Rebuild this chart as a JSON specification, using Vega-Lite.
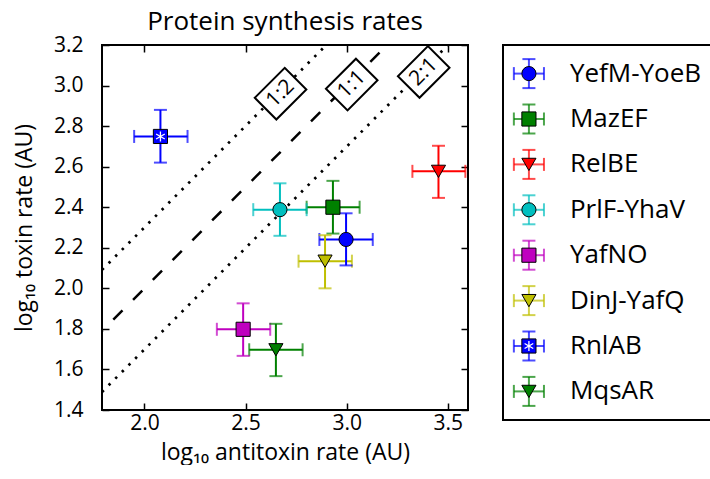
{
  "$schema": "https://vega.github.io/schema/vega-lite/v6.json",
  "padding": {"left": 12, "top": 8, "right": 0, "bottom": 0},
  "background": "white",
  "datasets": {
    "series": [
      {"name": "YefM-YoeB", "x": 2.997, "y": 2.241, "xlo": 2.865, "xhi": 3.129, "ylo": 2.113, "yhi": 2.37},
      {"name": "MazEF", "x": 2.932, "y": 2.40, "xlo": 2.802, "xhi": 3.064, "ylo": 2.27, "yhi": 2.53},
      {"name": "RelBE", "x": 3.454, "y": 2.577, "xlo": 3.325, "xhi": 3.587, "ylo": 2.446, "yhi": 2.703},
      {"name": "PrlF-YhaV", "x": 2.67, "y": 2.388, "xlo": 2.538, "xhi": 2.802, "ylo": 2.259, "yhi": 2.518},
      {"name": "YafNO", "x": 2.488, "y": 1.798, "xlo": 2.358, "xhi": 2.622, "ylo": 1.667, "yhi": 1.926},
      {"name": "DinJ-YafQ", "x": 2.893, "y": 2.134, "xlo": 2.762, "xhi": 3.026, "ylo": 2.0, "yhi": 2.262},
      {"name": "RnlAB", "x": 2.079, "y": 2.749, "xlo": 1.949, "xhi": 2.213, "ylo": 2.62, "yhi": 2.88},
      {"name": "MqsAR", "x": 2.65, "y": 1.697, "xlo": 2.518, "xhi": 2.782, "ylo": 1.567, "yhi": 1.825}
    ],
    "lines": [
      {"ratio": "1:2", "x": 1.79, "y": 2.091},
      {"ratio": "1:2", "x": 2.899, "y": 3.2},
      {"ratio": "1:1", "x": 1.79, "y": 1.79},
      {"ratio": "1:1", "x": 3.2, "y": 3.2},
      {"ratio": "2:1", "x": 1.79, "y": 1.489},
      {"ratio": "2:1", "x": 3.501, "y": 3.2}
    ],
    "labels": [
      {"label": "1:2", "x": 2.673, "y": 2.96},
      {"label": "1:1", "x": 3.025, "y": 3.005},
      {"label": "2:1", "x": 3.381, "y": 3.067}
    ]
  },
  "config": {
    "font": "Open Sans",
    "view": {"stroke": "black", "strokeWidth": 2},
    "axis": {
      "labelFont": "Open Sans", "labelFontSize": 21, "labelColor": "black",
      "titleFont": "Open Sans", "titleFontSize": 23, "titleFontWeight": "normal", "titleColor": "black",
      "tickColor": "black", "tickWidth": 1.5, "tickSize": -7, "domain": false, "grid": false, "labelPadding": 12
    }
  },
  "spacing": 32,
  "hconcat": [
    {
      "width": 366,
      "height": 365,
      "title": {"text": "Protein synthesis rates", "fontSize": 26, "font": "Open Sans", "fontWeight": "normal", "color": "black", "anchor": "middle", "offset": -1},
      "resolve": {"axis": {"x": "independent", "y": "independent"}},
      "layer": [
        {
          "data": {"name": "lines"},
          "transform": [{"filter": "datum.ratio !== '1:1'"}],
          "mark": {"type": "line", "color": "black", "strokeWidth": 2.7, "strokeDash": [2.5, 6.9], "clip": true},
          "encoding": {
            "x": {"field": "x", "type": "quantitative", "scale": {"domain": [1.79, 3.6], "nice": false, "zero": false},
                  "axis": {"orient": "bottom", "values": [2.0, 2.5, 3.0, 3.5], "format": ".1f", "title": "log₁₀ antitoxin rate (AU)", "labelPadding": 9, "titlePadding": 8}},
            "y": {"field": "y", "type": "quantitative", "scale": {"domain": [1.4, 3.2], "nice": false, "zero": false},
                  "axis": {"orient": "left", "values": [1.4, 1.6, 1.8, 2.0, 2.2, 2.4, 2.6, 2.8, 3.0, 3.2], "format": ".1f", "title": "log₁₀ toxin rate (AU)", "labelPadding": 26, "titlePadding": 17}},
            "detail": {"field": "ratio"}
          }
        },
        {
          "data": {"name": "lines"},
          "transform": [{"filter": "datum.ratio === '1:1'"}],
          "mark": {"type": "line", "color": "black", "strokeWidth": 2.5, "strokeDash": [13, 15], "strokeDashOffset": 12, "clip": true},
          "encoding": {
            "x": {"field": "x", "type": "quantitative", "axis": null},
            "y": {"field": "y", "type": "quantitative", "axis": null}
          }
        },
        {
          "data": {"name": "labels"},
          "mark": {"type": "point", "shape": "M-1,-0.72L1,-0.72L1,0.72L-1,0.72Z", "size": 1800, "angle": -45, "filled": true, "fill": "white", "stroke": "black", "strokeWidth": 2, "opacity": 1},
          "encoding": {
            "x": {"field": "x", "type": "quantitative", "axis": {"orient": "top", "values": [2.0, 2.5, 3.0, 3.5], "labels": false, "title": null}},
            "y": {"field": "y", "type": "quantitative", "axis": {"orient": "right", "values": [1.4, 1.6, 1.8, 2.0, 2.2, 2.4, 2.6, 2.8, 3.0, 3.2], "labels": false, "title": null}}
          }
        },
        {
          "data": {"name": "labels"},
          "mark": {"type": "text", "angle": -45, "fontSize": 21, "align": "center", "baseline": "middle", "color": "black", "font": "Open Sans"},
          "encoding": {
            "x": {"field": "x", "type": "quantitative", "axis": null},
            "y": {"field": "y", "type": "quantitative", "axis": null},
            "text": {"field": "label"}
          }
        },
        {
          "data": {"name": "series"},
          "mark": {"type": "rule", "strokeWidth": 2},
          "encoding": {
            "x": {"field": "xlo", "type": "quantitative", "axis": null},
            "x2": {"field": "xhi"},
            "y": {"field": "y", "type": "quantitative", "axis": null},
            "color": {"field": "name", "type": "nominal", "legend": null,
                      "scale": {"domain": ["YefM-YoeB", "MazEF", "RelBE", "PrlF-YhaV", "YafNO", "DinJ-YafQ", "RnlAB", "MqsAR"],
                                "range": ["#0000ff", "#008000", "#ff0000", "#00bfbf", "#bf00bf", "#bfbf00", "#0000ff", "#008000"]}}
          }
        },
        {
          "data": {"name": "series"},
          "mark": {"type": "rule", "strokeWidth": 2},
          "encoding": {
            "x": {"field": "x", "type": "quantitative", "axis": null},
            "y": {"field": "ylo", "type": "quantitative", "axis": null},
            "y2": {"field": "yhi"},
            "color": {"field": "name", "type": "nominal", "legend": null}
          }
        },
        {
          "data": {"name": "series"},
          "mark": {"type": "tick", "orient": "vertical", "size": 13, "thickness": 2},
          "encoding": {
            "x": {"field": "xlo", "type": "quantitative", "axis": null},
            "y": {"field": "y", "type": "quantitative", "axis": null},
            "color": {"field": "name", "type": "nominal", "legend": null}
          }
        },
        {
          "data": {"name": "series"},
          "mark": {"type": "tick", "orient": "vertical", "size": 13, "thickness": 2},
          "encoding": {
            "x": {"field": "xhi", "type": "quantitative", "axis": null},
            "y": {"field": "y", "type": "quantitative", "axis": null},
            "color": {"field": "name", "type": "nominal", "legend": null}
          }
        },
        {
          "data": {"name": "series"},
          "mark": {"type": "tick", "orient": "horizontal", "size": 13, "thickness": 2},
          "encoding": {
            "x": {"field": "x", "type": "quantitative", "axis": null},
            "y": {"field": "ylo", "type": "quantitative", "axis": null},
            "color": {"field": "name", "type": "nominal", "legend": null}
          }
        },
        {
          "data": {"name": "series"},
          "mark": {"type": "tick", "orient": "horizontal", "size": 13, "thickness": 2},
          "encoding": {
            "x": {"field": "x", "type": "quantitative", "axis": null},
            "y": {"field": "yhi", "type": "quantitative", "axis": null},
            "color": {"field": "name", "type": "nominal", "legend": null}
          }
        },
        {
          "data": {"name": "series"},
          "mark": {"type": "point", "filled": true, "size": 200, "stroke": "black", "strokeWidth": 1, "opacity": 1},
          "encoding": {
            "x": {"field": "x", "type": "quantitative", "axis": null},
            "y": {"field": "y", "type": "quantitative", "axis": null},
            "color": {"field": "name", "type": "nominal", "legend": null},
            "shape": {"field": "name", "type": "nominal", "legend": null,
                      "scale": {"domain": ["YefM-YoeB", "MazEF", "RelBE", "PrlF-YhaV", "YafNO", "DinJ-YafQ", "RnlAB", "MqsAR"],
                                "range": ["circle", "square", "triangle-down", "circle", "square", "triangle-down", "square", "triangle-down"]}}
          }
        },
        {
          "data": {"name": "series"},
          "transform": [{"filter": "datum.name === 'RnlAB'"}],
          "mark": {"type": "point", "filled": false, "shape": "M0,-1L0,1M-0.866,-0.5L0.866,0.5M-0.866,0.5L0.866,-0.5", "size": 100, "stroke": "white", "strokeWidth": 1.3, "opacity": 1},
          "encoding": {
            "x": {"field": "x", "type": "quantitative", "axis": null},
            "y": {"field": "y", "type": "quantitative", "axis": null}
          }
        }
      ]
    },
    {
      "width": 209,
      "height": 375,
      "title": {"text": " ", "fontSize": 12, "offset": -1},
      "data": {"name": "series"},
      "encoding": {
        "y": {"field": "name", "type": "nominal", "axis": null,
              "scale": {"type": "point", "padding": 0.63, "domain": ["YefM-YoeB", "MazEF", "RelBE", "PrlF-YhaV", "YafNO", "DinJ-YafQ", "RnlAB", "MqsAR"]}},
        "color": {"field": "name", "type": "nominal", "legend": null,
                  "scale": {"domain": ["YefM-YoeB", "MazEF", "RelBE", "PrlF-YhaV", "YafNO", "DinJ-YafQ", "RnlAB", "MqsAR"],
                            "range": ["#0000ff", "#008000", "#ff0000", "#00bfbf", "#bf00bf", "#bfbf00", "#0000ff", "#008000"]}}
      },
      "layer": [
        {
          "mark": {"type": "tick", "orient": "horizontal", "size": 30, "thickness": 2},
          "encoding": {"x": {"datum": 1.24, "type": "quantitative", "scale": {"domain": [0, 10]}, "axis": null}}
        },
        {
          "mark": {"type": "tick", "orient": "vertical", "size": 29, "thickness": 2},
          "encoding": {"x": {"datum": 1.24, "type": "quantitative", "axis": null}}
        },
        {
          "mark": {"type": "tick", "orient": "vertical", "size": 13, "thickness": 2},
          "encoding": {"x": {"datum": 0.52, "type": "quantitative", "axis": null}}
        },
        {
          "mark": {"type": "tick", "orient": "vertical", "size": 13, "thickness": 2},
          "encoding": {"x": {"datum": 1.96, "type": "quantitative", "axis": null}}
        },
        {
          "mark": {"type": "tick", "orient": "horizontal", "size": 13, "thickness": 2, "yOffset": -14.5},
          "encoding": {"x": {"datum": 1.24, "type": "quantitative", "axis": null}}
        },
        {
          "mark": {"type": "tick", "orient": "horizontal", "size": 13, "thickness": 2, "yOffset": 14.5},
          "encoding": {"x": {"datum": 1.24, "type": "quantitative", "axis": null}}
        },
        {
          "mark": {"type": "point", "filled": true, "size": 200, "stroke": "black", "strokeWidth": 1, "opacity": 1},
          "encoding": {
            "x": {"datum": 1.24, "type": "quantitative", "axis": null},
            "shape": {"field": "name", "type": "nominal", "legend": null,
                      "scale": {"domain": ["YefM-YoeB", "MazEF", "RelBE", "PrlF-YhaV", "YafNO", "DinJ-YafQ", "RnlAB", "MqsAR"],
                                "range": ["circle", "square", "triangle-down", "circle", "square", "triangle-down", "square", "triangle-down"]}}
          }
        },
        {
          "transform": [{"filter": "datum.name === 'RnlAB'"}],
          "mark": {"type": "point", "filled": false, "shape": "M0,-1L0,1M-0.866,-0.5L0.866,0.5M-0.866,0.5L0.866,-0.5", "size": 100, "stroke": "white", "strokeWidth": 1.3, "opacity": 1},
          "encoding": {"x": {"datum": 1.24, "type": "quantitative", "axis": null}, "color": {"value": "white"}}
        },
        {
          "mark": {"type": "text", "align": "left", "baseline": "middle", "fontSize": 26, "font": "Open Sans"},
          "encoding": {
            "x": {"datum": 3.2, "type": "quantitative", "axis": null},
            "text": {"field": "name"},
            "color": {"value": "black"}
          }
        }
      ]
    }
  ]
}
